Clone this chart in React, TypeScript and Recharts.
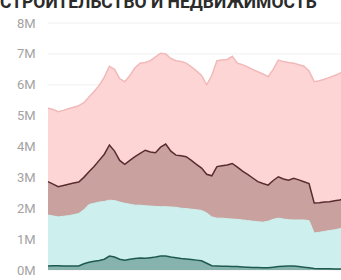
import React from "react";
import { AreaChart, Area, XAxis, YAxis, CartesianGrid } from "recharts";

const title = "СТРОИТЕЛЬСТВО И НЕДВИЖИМОСТЬ";

const weeks: string[] = Array.from({ length: 60 }, (_, i) => `W${i + 1}`);

const pinkTotal = [
  5.24, 5.2, 5.13, 5.17, 5.22, 5.27, 5.32, 5.42, 5.6, 5.78, 5.98, 6.25, 6.6, 6.5, 6.2, 6.1, 6.3, 6.55, 6.7, 6.72,
  6.78, 6.9, 7.02, 7.0, 6.85, 6.78, 6.75, 6.7, 6.58, 6.45, 6.3, 6.0, 6.3, 6.78, 6.8, 6.82, 6.92, 6.7, 6.65, 6.58,
  6.5, 6.42, 6.35, 6.26, 6.5, 6.8, 6.75, 6.72, 6.7, 6.65, 6.6, 6.45, 6.1, 6.13, 6.18, 6.24, 6.3, 6.37, 6.5, 6.55,
];

const brownTotal = [
  2.86, 2.78, 2.7, 2.74, 2.78, 2.82, 2.85, 3.0, 3.18, 3.35, 3.55, 3.75, 4.05, 3.85, 3.55, 3.42, 3.55, 3.67, 3.78, 3.88,
  3.82, 3.8, 3.98, 4.08, 3.85, 3.72, 3.7, 3.67, 3.55, 3.42, 3.3, 3.1, 3.05, 3.35, 3.38, 3.4, 3.45, 3.33, 3.2, 3.1,
  2.98, 2.86, 2.8, 2.75, 2.9, 3.02, 2.95, 2.91, 2.97, 2.92, 2.86, 2.8, 2.17, 2.18, 2.2, 2.21, 2.24, 2.27, 2.31, 2.35,
];

const cyanTotal = [
  1.78, 1.75, 1.72, 1.74, 1.76, 1.79, 1.83, 1.95, 2.12, 2.16, 2.2, 2.22, 2.26, 2.25, 2.2, 2.16, 2.13, 2.1, 2.1, 2.08,
  2.07, 2.06, 2.05, 2.05, 2.04, 2.03, 2.0, 1.99, 1.97, 1.95, 1.93, 1.85, 1.72, 1.68, 1.68, 1.66, 1.65, 1.64, 1.62, 1.6,
  1.58, 1.56, 1.55, 1.58, 1.64, 1.68, 1.65, 1.63, 1.62, 1.62, 1.62, 1.6, 1.2, 1.22, 1.25, 1.28, 1.3, 1.34, 1.38, 1.4,
];

const tealTotal = [
  0.13, 0.14, 0.14, 0.13, 0.13, 0.13, 0.13, 0.2, 0.25, 0.28, 0.31, 0.35, 0.45, 0.42, 0.35, 0.32, 0.35, 0.37, 0.39, 0.38,
  0.4, 0.42, 0.45, 0.45, 0.42, 0.4, 0.37, 0.36, 0.34, 0.32, 0.3, 0.22, 0.14, 0.13, 0.12, 0.12, 0.11, 0.11, 0.1, 0.09,
  0.08, 0.08, 0.07, 0.07, 0.09, 0.11, 0.12, 0.13, 0.13, 0.11, 0.09, 0.07, 0.05, 0.04, 0.04, 0.04, 0.03, 0.03, 0.03, 0.03,
];

const yTicks = [0, 1, 2, 3, 4, 5, 6, 7, 8];

const data = weeks.map((w, i) => ({
  w,
  pink: pinkTotal[i] * 1e6,
  brown: brownTotal[i] * 1e6,
  cyan: cyanTotal[i] * 1e6,
  teal: tealTotal[i] * 1e6,
}));

const YTick = (props: any) => {
  const { y, payload } = props;
  return (
    <text x={17} y={y} dy={4.5} textAnchor="start" fill="#a3a3a3" fontSize={13} fontFamily="Roboto, sans-serif">
      {`${Math.round(payload.value / 1e6)}M`}
    </text>
  );
};

export default function App() {
  return (
    <div style={{ position: "absolute", left: 0, top: 0, width: 341, height: 280, overflow: "hidden", background: "#fff" }}>
      <div
        style={{
          position: "absolute",
          left: 0,
          top: -6,
          fontFamily: "Roboto, sans-serif",
          fontWeight: 700,
          fontSize: 17.5,
          lineHeight: "17.5px",
          color: "#2b2b2b",
          whiteSpace: "nowrap",
        }}
      >
        {title}
      </div>
      <AreaChart
        width={350}
        height={300}
        data={data}
        margin={{ top: 23, right: 0, left: 0, bottom: 30 }}
        style={{ position: "absolute", left: 0, top: 0 }}
      >
        <CartesianGrid vertical={false} stroke="#f0f0f0" />
        <XAxis dataKey="w" hide />
        <YAxis
          width={48}
          domain={[0, 8e6]}
          ticks={yTicks.map((t) => t * 1e6)}
          axisLine={false}
          tickLine={false}
          tick={<YTick />}
        />
        <Area type="linear" dataKey="pink" stroke="#f2b9b9" strokeWidth={1.5} fill="#fdd5d5" fillOpacity={1} isAnimationActive={false} />
        <Area type="linear" dataKey="brown" stroke="#5a2c30" strokeWidth={1.5} fill="#c9a29f" fillOpacity={1} isAnimationActive={false} />
        <Area type="linear" dataKey="cyan" stroke="#cdf0ee" strokeWidth={1} fill="#cdf0ee" fillOpacity={1} isAnimationActive={false} />
        <Area type="linear" dataKey="teal" stroke="#1f5a50" strokeWidth={1.5} fill="#86b3ad" fillOpacity={1} isAnimationActive={false} />
      </AreaChart>
    </div>
  );
}
